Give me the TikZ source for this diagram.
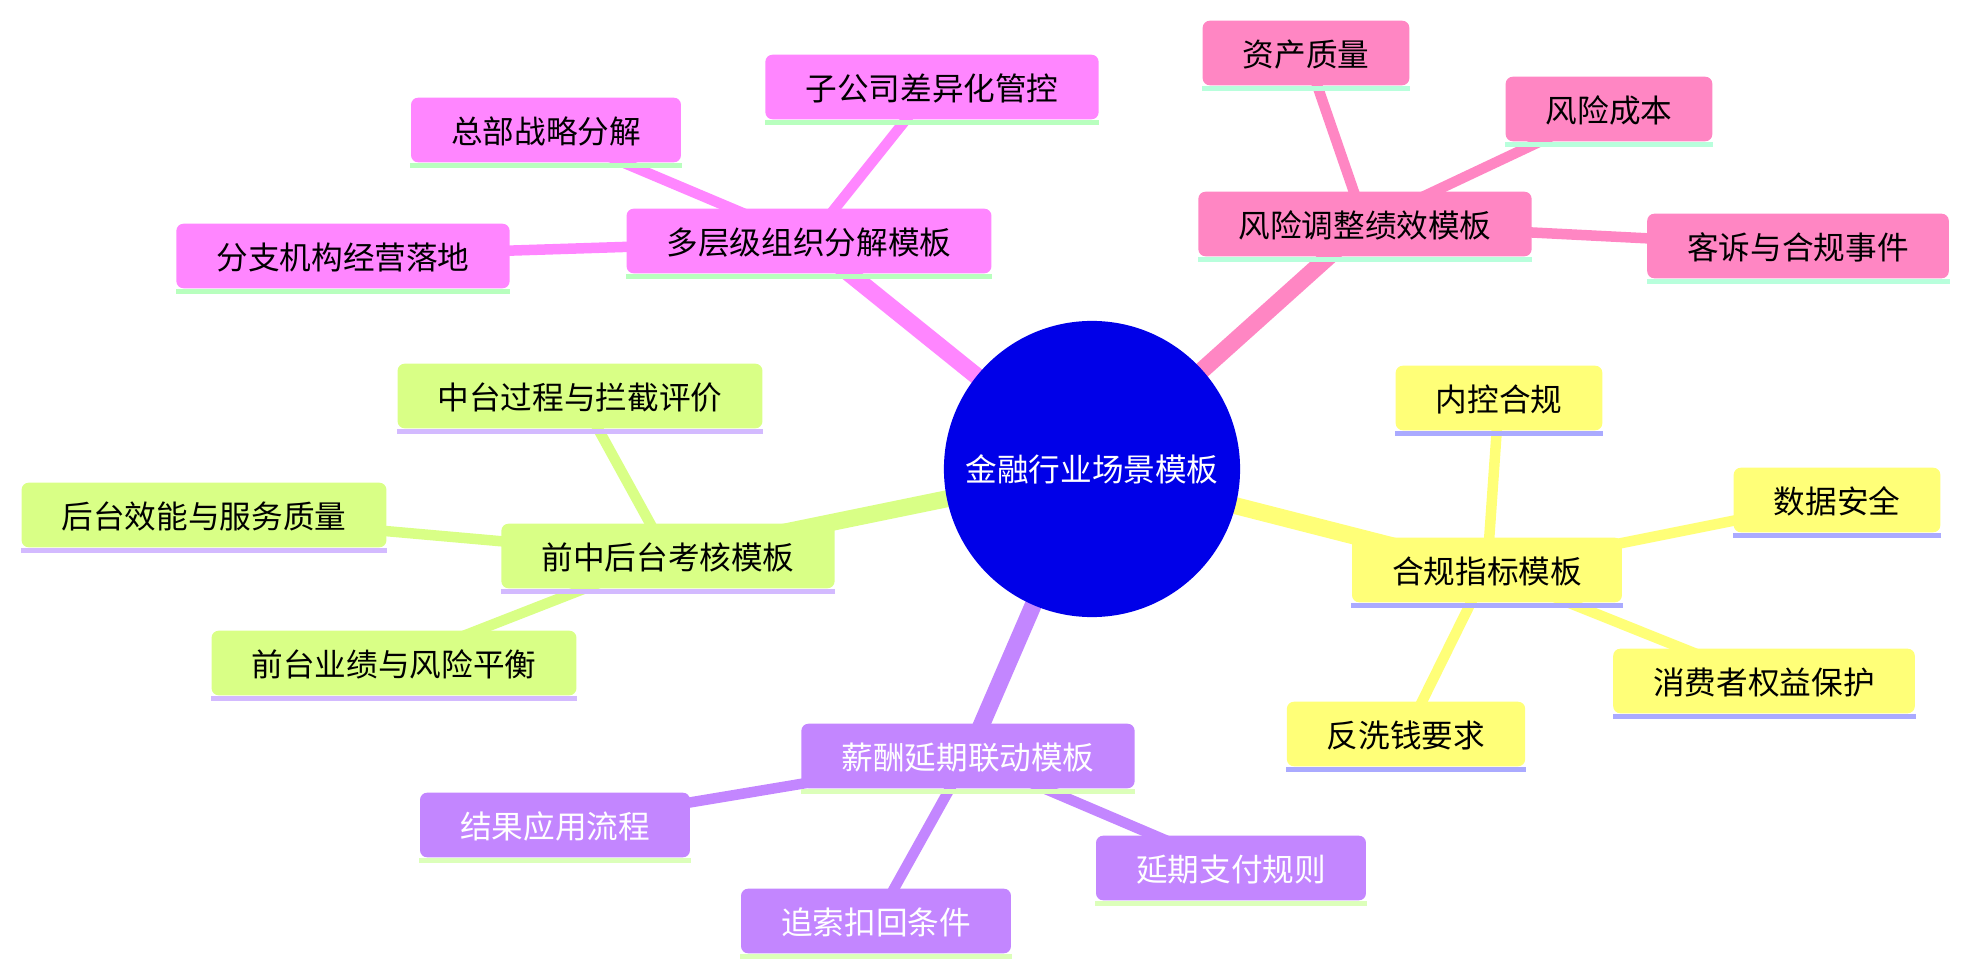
\documentclass[tikz,border=0pt]{standalone}
\usepackage{fontspec}
\setmainfont{Noto Sans CJK SC}
\usetikzlibrary{backgrounds}

\definecolor{rootBlue}{RGB}{0,0,232}
\definecolor{cMag}{RGB}{255,134,255}
\definecolor{lnMag}{RGB}{184,255,190}
\definecolor{cRose}{RGB}{255,134,195}
\definecolor{lnRose}{RGB}{184,255,220}
\definecolor{cLime}{RGB}{217,255,134}
\definecolor{lnLime}{RGB}{211,186,255}
\definecolor{cYel}{RGB}{255,255,120}
\definecolor{lnYel}{RGB}{170,170,255}
\definecolor{cPur}{RGB}{195,134,255}
\definecolor{lnPur}{RGB}{220,255,186}

\begin{document}
\begin{tikzpicture}[x=0.01cm, y=-0.01cm,
    box/.style={rounded corners=0.07cm, inner xsep=0.4cm, inner ysep=0pt,
        minimum height=0.645cm, text height=0.88em, text depth=0.12em,
        font=\fontsize{9pt}{11pt}\selectfont},
    trunk/.style={line width=0.17cm},
    twig/.style={line width=0.105cm}]
    \useasboundingbox (0,0) rectangle (1969,976);

    % ===== Root =====
    \node[circle, fill=rootBlue, minimum size=2.96cm, inner sep=0pt, text=white,
        font=\fontsize{9pt}{11pt}\selectfont] (root) at (1092,469) {金融行业场景模板};

    % ===== Organisation levels =====
    \node[box, fill=cMag] (org) at (809,241) {多层级组织分解模板};
    \node[box, fill=cMag] (orgHQ) at (546,130) {总部战略分解};
    \node[box, fill=cMag] (orgSub) at (932,87) {子公司差异化管控};
    \node[box, fill=cMag] (orgBr) at (343,256) {分支机构经营落地};

    % ===== Risk adjusted =====
    \node[box, fill=cRose] (risk) at (1365,224) {风险调整绩效模板};
    \node[box, fill=cRose] (riskAQ) at (1306,53) {资产质量};
    \node[box, fill=cRose] (riskCost) at (1609,109) {风险成本};
    \node[box, fill=cRose] (riskComp) at (1798,246) {客诉与合规事件};

    % ===== Front / middle / back =====
    \node[box, fill=cLime] (tier) at (668,556) {前中后台考核模板};
    \node[box, fill=cLime] (tierMid) at (580,396) {中台过程与拦截评价};
    \node[box, fill=cLime] (tierBack) at (204,515) {后台效能与服务质量};
    \node[box, fill=cLime] (tierFront) at (394,663) {前台业绩与风险平衡};

    % ===== Compliance =====
    \node[box, fill=cYel] (comp) at (1487,570) {合规指标模板};
    \node[box, fill=cYel] (compIC) at (1499,398) {内控合规};
    \node[box, fill=cYel] (compData) at (1837,500) {数据安全};
    \node[box, fill=cYel] (compCons) at (1764,681) {消费者权益保护};
    \node[box, fill=cYel] (compAML) at (1406,734) {反洗钱要求};

    % ===== Deferred pay =====
    \node[box, fill=cPur, text=white] (pay) at (968,756) {薪酬延期联动模板};
    \node[box, fill=cPur, text=white] (payUse) at (555,825) {结果应用流程};
    \node[box, fill=cPur, text=white] (payClaw) at (876,921) {追索扣回条件};
    \node[box, fill=cPur, text=white] (payDef) at (1231,868) {延期支付规则};

    % bottom strips
    \foreach \n/\c in {org/lnMag, orgHQ/lnMag, orgSub/lnMag, orgBr/lnMag,
        risk/lnRose, riskAQ/lnRose, riskCost/lnRose, riskComp/lnRose,
        tier/lnLime, tierMid/lnLime, tierBack/lnLime, tierFront/lnLime,
        comp/lnYel, compIC/lnYel, compData/lnYel, compCons/lnYel, compAML/lnYel,
        pay/lnPur, payUse/lnPur, payClaw/lnPur, payDef/lnPur}
        \fill[\c] (\n.south west) rectangle ([yshift=-0.055cm]\n.south east);

    % ===== Edges =====
    \begin{pgfonlayer}{background}
        \foreach \s/\c in {org/cMag, risk/cRose, tier/cLime, comp/cYel, pay/cPur}
            \draw[trunk, \c] (root.center) -- (\s.center);
        \foreach \a/\b/\c in {org/orgHQ/cMag, org/orgSub/cMag, org/orgBr/cMag,
            risk/riskAQ/cRose, risk/riskCost/cRose, risk/riskComp/cRose,
            tier/tierMid/cLime, tier/tierBack/cLime, tier/tierFront/cLime,
            comp/compIC/cYel, comp/compData/cYel, comp/compCons/cYel, comp/compAML/cYel,
            pay/payUse/cPur, pay/payClaw/cPur, pay/payDef/cPur}
            \draw[twig, \c] (\a.center) -- (\b.center);
    \end{pgfonlayer}
\end{tikzpicture}
\end{document}
